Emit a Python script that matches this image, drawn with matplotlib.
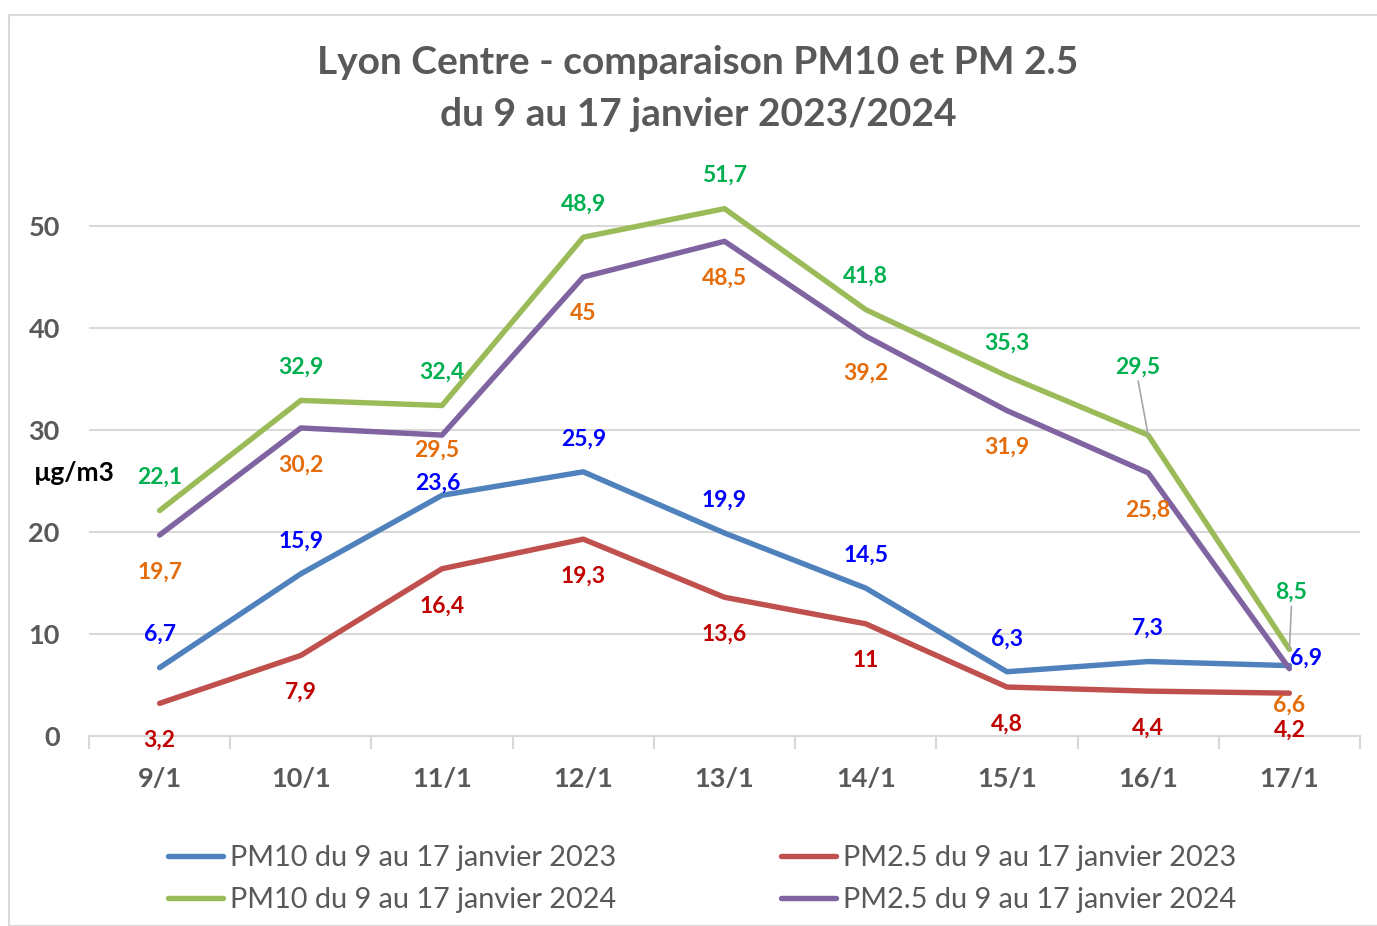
import matplotlib
matplotlib.use("Agg")
import matplotlib.pyplot as plt
from matplotlib.patches import Rectangle

days = ["9/1", "10/1", "11/1", "12/1", "13/1", "14/1", "15/1", "16/1", "17/1"]
pm10_2023 = [6.7, 15.9, 23.6, 25.9, 19.9, 14.5, 6.3, 7.3, 6.9]
pm25_2023 = [3.2, 7.9, 16.4, 19.3, 13.6, 11, 4.8, 4.4, 4.2]
pm10_2024 = [22.1, 32.9, 32.4, 48.9, 51.7, 41.8, 35.3, 29.5, 8.5]
pm25_2024 = [19.7, 30.2, 29.5, 45, 48.5, 39.2, 31.9, 25.8, 6.6]
names = ["PM10 du 9 au 17 janvier 2023", "PM2.5 du 9 au 17 janvier 2023",
         "PM10 du 9 au 17 janvier 2024", "PM2.5 du 9 au 17 janvier 2024"]

plt.rcParams['font.family'] = ['Lato', 'DejaVu Sans']
GRAY = "#595959"

fig = plt.figure(figsize=(13.77, 9.26), dpi=100)
ax = fig.add_axes([89/1377, 1-736/926, (1360-89)/1377, (736-175)/926])

x = list(range(len(days)))
series = [
    (pm10_2023, "#4F81BD", "#0000FF", -33, {2: (-4, -12), 8: (17, -7)}),
    (pm25_2023, "#C0504D", "#C00000", 37, {}),
    (pm10_2024, "#9BBB59", "#00B050", -33, {7: (-10, -68), 8: (2, -57)}),
    (pm25_2024, "#8064A2", "#E46C0A", 37, {2: (-5, 15)}),
]
handles = []
for (vals, lc, tc, dy, exc), name in zip(series, names):
    h, = ax.plot(x, vals, color=lc, lw=3.9, solid_capstyle='round', solid_joinstyle='round', zorder=3)
    handles.append(h)
    for i, v in enumerate(vals):
        ox, oy = exc.get(i, (0, dy))
        txt = f"{v:g}".replace(".", ",")
        ax.annotate(txt, (i, v), xytext=(ox, -oy), textcoords='offset pixels',
                    ha='center', va='center', color=tc, fontsize=16.5, fontweight='bold',
                    annotation_clip=False, zorder=5)
        if abs(oy) > 50:
            ax.annotate("", (i, v), xytext=(ox, -oy - 14), textcoords='offset pixels',
                        arrowprops=dict(arrowstyle='-', color='#A6A6A6', lw=1.2,
                                        shrinkA=0, shrinkB=0), annotation_clip=False, zorder=4)

ax.set_xlim(-0.5, 8.5)
ax.set_ylim(0, 55)
ax.set_yticks([0, 10, 20, 30, 40, 50])
ax.set_yticklabels(["0", "10", "20", "30", "40", "50"], fontsize=19.5, fontweight='bold', color=GRAY)
ax.grid(axis='y', color='#D9D9D9', lw=1.5, zorder=0)
ax.tick_params(axis='y', length=0, pad=21)
ax.set_xticks(x)
ax.set_xticklabels(days, fontsize=19.5, fontweight='bold', color=GRAY)
ax.tick_params(axis='x', length=0, pad=22)
ax.set_xticks([i - 0.5 for i in range(len(days) + 1)], minor=True)
ax.tick_params(axis='x', which='minor', length=9, width=1.5, color='#D9D9D9')
for s in ['top', 'right', 'left']:
    ax.spines[s].set_visible(False)
ax.spines['bottom'].set_color('#D9D9D9')
ax.spines['bottom'].set_linewidth(1.5)

fig.text(74/1377, 1-473/926, "µg/m3", ha='center', va='center', fontsize=19, fontweight='bold', color='black')

fig.text(698/1377, 1-62/926, "Lyon Centre - comparaison PM10 et PM 2.5", ha='center', va='center',
         fontsize=28, fontweight='bold', color=GRAY)
fig.text(698/1377, 1-115/926, "du 9 au 17 janvier 2023/2024", ha='center', va='center',
         fontsize=28, fontweight='bold', color=GRAY)

order = [0, 2, 1, 3]
leg = fig.legend([handles[i] for i in order], [names[i] for i in order], loc='center',
                 bbox_to_anchor=(702/1377, 1-879/926), ncol=2, frameon=False, fontsize=20.8,
                 handlelength=1.9, handletextpad=0.25, columnspacing=5.7, labelspacing=0.55)
for t in leg.get_texts():
    t.set_color(GRAY)

fig.patches.append(Rectangle((9/1377, 0.0), 1.2, 1-15/926, transform=fig.transFigure,
                             fill=False, edgecolor='#D9D9D9', lw=1.5))

fig.savefig("out.png", dpi=100)
